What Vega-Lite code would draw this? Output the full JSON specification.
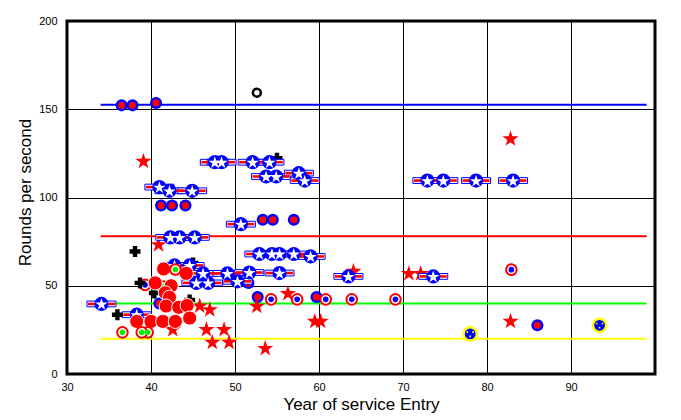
{
  "$schema": "https://vega.github.io/schema/vega-lite/v6.json",
  "width": 588,
  "height": 353,
  "autosize": {"type": "none"},
  "padding": {"left": 67, "top": 21, "right": 26, "bottom": 46},
  "background": "white",
  "config": {
    "view": {"stroke": "black", "strokeWidth": 3},
    "point": {"opacity": 1},
    "axis": {"domain": false, "tickColor": "black", "labelColor": "black", "labelFont": "Liberation Sans", "labelFontSize": 11, "titleFont": "Liberation Sans", "titleFontSize": 17, "titleFontWeight": "normal", "titleColor": "black", "gridColor": "black", "gridWidth": 1, "labelOverlap": false, "labelFlush": false, "labelBound": false}
  },
  "datasets": {
    "lines": [
      {"series": "blue", "rps": 152.5, "year": 34, "year_end": 99},
      {"series": "red", "rps": 78, "year": 34, "year_end": 99},
      {"series": "green", "rps": 40, "year": 34, "year_end": 99},
      {"series": "yellow", "rps": 20, "year": 34, "year_end": 99}
    ],
    "xticks": [
      {"v": 30, "kind": "major"}, {"v": 35, "kind": "minor"}, {"v": 40, "kind": "major"}, {"v": 45, "kind": "minor"},
      {"v": 50, "kind": "major"}, {"v": 55, "kind": "minor"}, {"v": 60, "kind": "major"}, {"v": 65, "kind": "minor"},
      {"v": 70, "kind": "major"}, {"v": 75, "kind": "minor"}, {"v": 80, "kind": "major"}, {"v": 85, "kind": "minor"},
      {"v": 90, "kind": "major"}, {"v": 95, "kind": "minor"}, {"v": 100, "kind": "major"}
    ],
    "yticks": [
      {"v": 0, "kind": "major"}, {"v": 10, "kind": "minor"}, {"v": 20, "kind": "minor"}, {"v": 30, "kind": "minor"}, {"v": 40, "kind": "minor"},
      {"v": 50, "kind": "major"}, {"v": 60, "kind": "minor"}, {"v": 70, "kind": "minor"}, {"v": 80, "kind": "minor"}, {"v": 90, "kind": "minor"},
      {"v": 100, "kind": "major"}, {"v": 110, "kind": "minor"}, {"v": 120, "kind": "minor"}, {"v": 130, "kind": "minor"}, {"v": 140, "kind": "minor"},
      {"v": 150, "kind": "major"}, {"v": 160, "kind": "minor"}, {"v": 170, "kind": "minor"}, {"v": 180, "kind": "minor"}, {"v": 190, "kind": "minor"},
      {"v": 200, "kind": "major"}
    ],
    "points": [
      {"kind": "roundel", "year": 36.5, "rps": 152.2},
      {"kind": "roundel", "year": 37.8, "rps": 152.2},
      {"kind": "roundel", "year": 40.6, "rps": 153.6},
      {"kind": "roundel", "year": 41.2, "rps": 95.5},
      {"kind": "roundel", "year": 42.5, "rps": 95.5},
      {"kind": "roundel", "year": 44.1, "rps": 95.5},
      {"kind": "roundel", "year": 53.3, "rps": 87.4},
      {"kind": "roundel", "year": 54.5, "rps": 87.4},
      {"kind": "roundel", "year": 57.0, "rps": 87.4},
      {"kind": "roundel", "year": 52.7, "rps": 43.6},
      {"kind": "roundel", "year": 59.7, "rps": 43.6},
      {"kind": "roundel", "year": 51.6, "rps": 51.5},
      {"kind": "roundel", "year": 86.0, "rps": 27.6},
      {"kind": "roundel", "year": 41.0, "rps": 40.0},
      {"kind": "cross_back", "year": 40.4, "rps": 45.9},
      {"kind": "cross_back", "year": 42.2, "rps": 43.0},
      {"kind": "cross_back", "year": 44.6, "rps": 42.0},
      {"kind": "cross_back", "year": 55.0, "rps": 122.3},
      {"kind": "cross_back", "year": 45.0, "rps": 62.9},
      {"kind": "italy_back", "year": 41.5, "rps": 49.6},
      {"kind": "france_back", "year": 39.3, "rps": 50.5},
      {"kind": "star", "year": 39.1, "rps": 120.4},
      {"kind": "star", "year": 40.9, "rps": 73.2},
      {"kind": "star", "year": 82.8, "rps": 133.2},
      {"kind": "star", "year": 82.8, "rps": 29.8},
      {"kind": "star", "year": 70.7, "rps": 56.8},
      {"kind": "star", "year": 72.1, "rps": 56.8},
      {"kind": "star", "year": 56.3, "rps": 45.5},
      {"kind": "star", "year": 52.6, "rps": 38.3},
      {"kind": "star", "year": 59.5, "rps": 29.8},
      {"kind": "star", "year": 60.2, "rps": 29.8},
      {"kind": "star", "year": 53.6, "rps": 14.4},
      {"kind": "star", "year": 64.1, "rps": 58.1},
      {"kind": "star", "year": 47.0, "rps": 36.4},
      {"kind": "star", "year": 45.8, "rps": 38.5},
      {"kind": "star", "year": 46.6, "rps": 25.1},
      {"kind": "star", "year": 48.7, "rps": 25.1},
      {"kind": "star", "year": 47.3, "rps": 17.9},
      {"kind": "star", "year": 49.3, "rps": 17.9},
      {"kind": "star", "year": 42.6, "rps": 25.1},
      {"kind": "us", "year": 34.1, "rps": 39.7},
      {"kind": "us", "year": 38.3, "rps": 33.6},
      {"kind": "us", "year": 41.0, "rps": 105.9},
      {"kind": "us", "year": 42.2, "rps": 103.8},
      {"kind": "us", "year": 44.9, "rps": 103.8},
      {"kind": "us", "year": 47.6, "rps": 120},
      {"kind": "us", "year": 48.4, "rps": 120},
      {"kind": "us", "year": 52.1, "rps": 120},
      {"kind": "us", "year": 54.1, "rps": 120},
      {"kind": "us", "year": 53.7, "rps": 111.9},
      {"kind": "us", "year": 54.9, "rps": 111.9},
      {"kind": "us", "year": 57.6, "rps": 113.8},
      {"kind": "us", "year": 58.3, "rps": 109.6},
      {"kind": "us", "year": 50.7, "rps": 84.9},
      {"kind": "us", "year": 42.3, "rps": 77.4},
      {"kind": "us", "year": 43.4, "rps": 77.4},
      {"kind": "us", "year": 45.2, "rps": 77.4},
      {"kind": "us", "year": 52.9, "rps": 68},
      {"kind": "us", "year": 54.4, "rps": 68},
      {"kind": "us", "year": 55.3, "rps": 68},
      {"kind": "us", "year": 57.0, "rps": 68},
      {"kind": "us", "year": 59.0, "rps": 66.6},
      {"kind": "us", "year": 42.8, "rps": 61.5},
      {"kind": "us", "year": 44.6, "rps": 61.5},
      {"kind": "us", "year": 46.2, "rps": 57},
      {"kind": "us", "year": 49.1, "rps": 57},
      {"kind": "us", "year": 51.7, "rps": 57.5},
      {"kind": "us", "year": 55.3, "rps": 57.2},
      {"kind": "us", "year": 45.4, "rps": 51.6},
      {"kind": "us", "year": 46.8, "rps": 51.6},
      {"kind": "us", "year": 50.3, "rps": 52.5},
      {"kind": "us", "year": 63.5, "rps": 55.3},
      {"kind": "us", "year": 73.6, "rps": 55.3},
      {"kind": "us", "year": 72.9, "rps": 109.6},
      {"kind": "us", "year": 74.8, "rps": 109.6},
      {"kind": "us", "year": 78.7, "rps": 109.6},
      {"kind": "us", "year": 83.1, "rps": 109.6},
      {"kind": "japan", "year": 41.5, "rps": 59.5},
      {"kind": "japan", "year": 44.2, "rps": 57.0},
      {"kind": "japan", "year": 40.5, "rps": 51.6},
      {"kind": "japan", "year": 42.4, "rps": 50.0},
      {"kind": "japan", "year": 41.7, "rps": 46.0},
      {"kind": "japan", "year": 42.2, "rps": 43.5},
      {"kind": "japan", "year": 41.8, "rps": 38.5},
      {"kind": "japan", "year": 43.3, "rps": 37.8},
      {"kind": "japan", "year": 44.3, "rps": 38.8},
      {"kind": "japan", "year": 38.3, "rps": 29.8},
      {"kind": "japan", "year": 40.0, "rps": 29.8},
      {"kind": "japan", "year": 41.4, "rps": 29.8},
      {"kind": "japan", "year": 42.9, "rps": 29.8},
      {"kind": "japan", "year": 44.6, "rps": 31.7},
      {"kind": "france", "year": 54.3, "rps": 42.3},
      {"kind": "france", "year": 57.4, "rps": 42.3},
      {"kind": "france", "year": 60.8, "rps": 42.3},
      {"kind": "france", "year": 63.9, "rps": 42.3},
      {"kind": "france", "year": 69.1, "rps": 42.3},
      {"kind": "france", "year": 82.9, "rps": 59.1},
      {"kind": "italy", "year": 39.6, "rps": 23.6},
      {"kind": "italy", "year": 36.6, "rps": 23.6},
      {"kind": "italy", "year": 38.9, "rps": 23.6},
      {"kind": "italy", "year": 42.9, "rps": 59.2},
      {"kind": "cross", "year": 38.1, "rps": 69.4},
      {"kind": "cross", "year": 38.7, "rps": 51.6},
      {"kind": "cross", "year": 36.0, "rps": 33.6},
      {"kind": "ring", "year": 52.6, "rps": 159.4},
      {"kind": "sweden", "year": 78.0, "rps": 22.7},
      {"kind": "sweden", "year": 93.4, "rps": 27.6}
    ]
  },
  "data": {"name": "points"},
  "encoding": {
    "x": {"field": "year", "type": "quantitative", "scale": {"domain": [30, 100], "nice": false, "zero": false}, "axis": null},
    "y": {"field": "rps", "type": "quantitative", "scale": {"domain": [0, 200], "nice": false, "zero": false}, "axis": null}
  },
  "resolve": {"axis": {"x": "independent", "y": "independent"}, "scale": {"color": "independent"}},
  "layer": [
    {
      "data": {"name": "lines"},
      "mark": {"type": "rule", "strokeWidth": 2},
      "encoding": {
        "x": {"field": "year", "type": "quantitative", "scale": {"domain": [30, 100], "nice": false, "zero": false},
          "axis": {"orient": "bottom", "values": [30, 40, 50, 60, 70, 80, 90, 100],
            "labelExpr": "datum.value < 100 ? datum.label : ''",
            "grid": true, "ticks": false, "labelPadding": 7,
            "title": "Year of service Entry", "titleY": 30, "titleBaseline": "middle"}},
        "x2": {"field": "year_end"},
        "y": {"field": "rps", "type": "quantitative", "scale": {"domain": [0, 200], "nice": false, "zero": false},
          "axis": {"orient": "left", "values": [0, 50, 100, 150, 200],
            "grid": true, "ticks": false, "labelPadding": 10,
            "title": "Rounds per second", "titleX": -42, "titleY": 171, "titleBaseline": "middle", "titleAngle": -90}},
        "color": {"field": "series", "type": "nominal", "scale": {"domain": ["blue", "red", "green", "yellow"], "range": ["#0000ff", "#ff0000", "#00ff00", "#ffff00"]}, "legend": null}
      }
    },
    {"data": {"name": "xticks"}, "mark": {"type": "rule", "color": "black"},
      "encoding": {"x": {"field": "v", "type": "quantitative", "axis": null}, "y": {"datum": 0}, "y2": {"datum": 3.3},
        "strokeWidth": {"field": "kind", "type": "nominal", "scale": {"domain": ["major", "minor"], "range": [2.5, 1.5]}, "legend": null}}},
    {"data": {"name": "xticks"}, "mark": {"type": "rule", "color": "black"},
      "encoding": {"x": {"field": "v", "type": "quantitative", "axis": null}, "y": {"datum": 200}, "y2": {"datum": 196.7},
        "strokeWidth": {"field": "kind", "type": "nominal", "scale": {"domain": ["major", "minor"], "range": [2.5, 1.5]}, "legend": null}}},
    {"data": {"name": "yticks"}, "mark": {"type": "rule", "color": "black"},
      "encoding": {"y": {"field": "v", "type": "quantitative", "axis": null}, "x": {"datum": 30}, "x2": {"datum": 30.75},
        "strokeWidth": {"field": "kind", "type": "nominal", "scale": {"domain": ["major", "minor"], "range": [2.5, 1.5]}, "legend": null}}},
    {"data": {"name": "yticks"}, "mark": {"type": "rule", "color": "black"},
      "encoding": {"y": {"field": "v", "type": "quantitative", "axis": null}, "x": {"datum": 100}, "x2": {"datum": 99.25},
        "strokeWidth": {"field": "kind", "type": "nominal", "scale": {"domain": ["major", "minor"], "range": [2.5, 1.5]}, "legend": null}}},
    {"transform": [{"filter": "datum.kind === 'roundel'"}], "mark": {"type": "point", "shape": "circle", "filled": true, "color": "#0000ff", "size": 145, "opacity": 1}},
    {"transform": [{"filter": "datum.kind === 'roundel'"}], "mark": {"type": "point", "shape": "circle", "filled": true, "color": "#ff0000", "size": 50, "opacity": 1}},
    {"transform": [{"filter": "datum.kind === 'cross_back'"}], "mark": {"type": "point", "shape": "cross", "filled": true, "color": "black", "size": 120, "opacity": 1}},
    {"transform": [{"filter": "datum.kind === 'italy_back' || datum.kind === 'france_back'"}], "mark": {"type": "point", "shape": "circle", "filled": true, "fill": "white", "stroke": "#ff0000", "strokeWidth": 2, "size": 113, "opacity": 1}},
    {"transform": [{"filter": "datum.kind === 'italy_back'"}], "mark": {"type": "point", "shape": "circle", "filled": true, "color": "#00ee00", "size": 32, "opacity": 1}},
    {"transform": [{"filter": "datum.kind === 'france_back'"}], "mark": {"type": "point", "shape": "circle", "filled": true, "color": "#0000ff", "size": 32, "opacity": 1}},
    {"transform": [{"filter": "datum.kind === 'star'"}], "mark": {"type": "point", "shape": "M0,-1L0.2245,-0.309L0.951,-0.309L0.363,0.118L0.588,0.809L0,0.382L-0.588,0.809L-0.363,0.118L-0.951,-0.309L-0.2245,-0.309Z", "filled": true, "color": "#ff0000", "size": 289, "opacity": 1}},
    {"transform": [{"filter": "datum.kind === 'us'"}], "mark": {"type": "point", "shape": "M-1,-0.2H1V0.2H-1Z", "filled": true, "fill": "white", "stroke": "#0000ff", "strokeWidth": 1, "size": 841, "opacity": 1}},
    {"transform": [{"filter": "datum.kind === 'us'"}], "mark": {"type": "point", "shape": "M-0.93,-0.09H0.93V0.09H-0.93Z", "filled": true, "color": "#ff0000", "size": 841, "opacity": 1}},
    {"transform": [{"filter": "datum.kind === 'us'"}], "mark": {"type": "point", "shape": "circle", "filled": true, "color": "#0000ff", "size": 201, "opacity": 1}},
    {"transform": [{"filter": "datum.kind === 'us'"}], "mark": {"type": "point", "shape": "M0,-0.905L0.2245,-0.214L0.951,-0.214L0.363,0.213L0.588,0.904L0,0.477L-0.588,0.904L-0.363,0.213L-0.951,-0.214L-0.2245,-0.214Z", "filled": true, "color": "white", "size": 169, "opacity": 1}},
    {"transform": [{"filter": "datum.kind === 'japan'"}], "mark": {"type": "point", "shape": "circle", "filled": true, "fill": "#ff0000", "stroke": "white", "strokeWidth": 1, "size": 200, "opacity": 1}},
    {"transform": [{"filter": "datum.kind === 'italy' || datum.kind === 'france'"}], "mark": {"type": "point", "shape": "circle", "filled": true, "fill": "white", "stroke": "#ff0000", "strokeWidth": 2, "size": 113, "opacity": 1}},
    {"transform": [{"filter": "datum.kind === 'italy'"}], "mark": {"type": "point", "shape": "circle", "filled": true, "color": "#00ee00", "size": 32, "opacity": 1}},
    {"transform": [{"filter": "datum.kind === 'france'"}], "mark": {"type": "point", "shape": "circle", "filled": true, "color": "#0000ff", "size": 32, "opacity": 1}},
    {"transform": [{"filter": "datum.kind === 'cross'"}], "mark": {"type": "point", "shape": "cross", "filled": true, "color": "black", "size": 120, "opacity": 1}},
    {"transform": [{"filter": "datum.kind === 'ring'"}], "mark": {"type": "point", "shape": "circle", "filled": false, "stroke": "black", "strokeWidth": 2.5, "size": 64, "opacity": 1}},
    {"transform": [{"filter": "datum.kind === 'sweden'"}], "mark": {"type": "point", "shape": "circle", "filled": true, "fill": "#0000ff", "stroke": "#ffff00", "strokeWidth": 2.5, "size": 177, "opacity": 1}},
    {"transform": [{"filter": "datum.kind === 'sweden'"}], "mark": {"type": "point", "shape": "M-0.5,-0.35h0.22v0.22h-0.22Z M0.28,-0.35h0.22v0.22h-0.22Z M-0.11,0.22h0.22v0.22h-0.22Z", "filled": true, "color": "#ffff00", "size": 225, "opacity": 1}}
  ]
}
